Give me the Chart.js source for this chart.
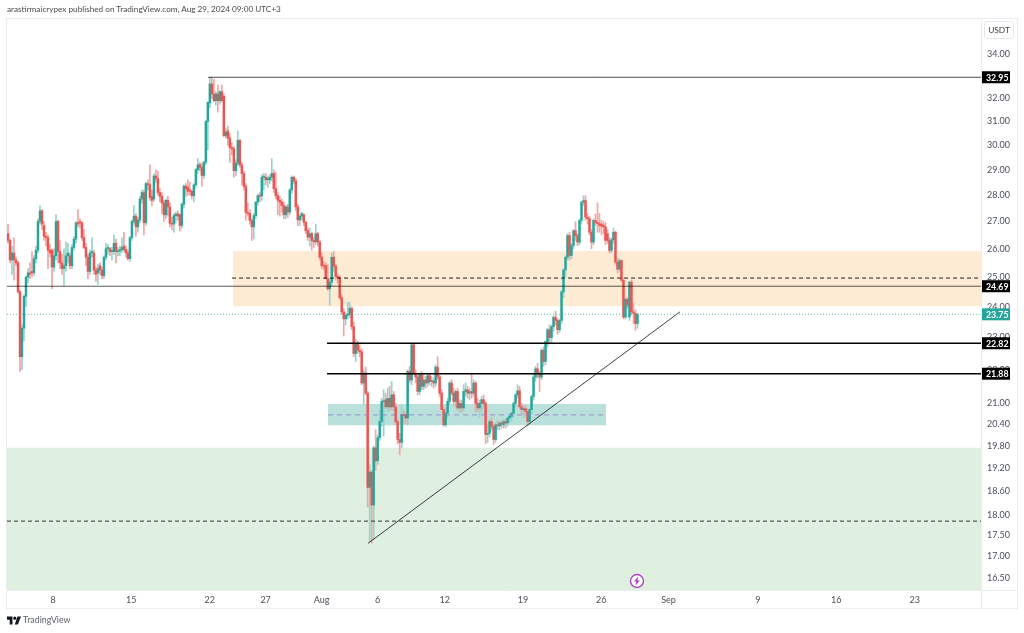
<!DOCTYPE html>
<html>
<head>
<meta charset="utf-8">
<title>arastirmaicrypex chart</title>
<script src="https://cdn.jsdelivr.net/npm/chart.js@4"></script>
<style>
  html, body { margin: 0; padding: 0; background: #fff; }
  body { width: 1024px; height: 633px; position: relative; overflow: hidden; font-family: Lato, sans-serif; }
  #myChart { position: absolute; left: 0; top: 0; }
  .header { position: absolute; left: 7px; top: 4px; font-size: 8.2px; color: #4a4a4a; white-space: nowrap; }
  .footer { position: absolute; left: 23px; top: 614px; font-size: 8.8px; color: #5d606b; white-space: nowrap; }
  .logo { position: absolute; left: 7px; top: 616px; }
  .currency { position: absolute; left: 984px; top: 21px; width: 30px; height: 18px; box-sizing: border-box; border: 1px solid #e6e8ee; border-radius: 3px; font-size: 8.4px; line-height: 16px; text-align: center; color: #3c3f48; }
  .bolt { position: absolute; left: 629px; top: 573px; }
</style>
</head>
<body>
<canvas id="myChart" width="1024" height="633"></canvas>
<div class="header">arastirmaicrypex published on TradingView.com, Aug 29, 2024 09:00 UTC+3</div>
<svg class="logo" width="14" height="9" viewBox="0 0 36 20"><path fill="#131722" d="M14 20H7V8H0V0h14v20zM28 20h-8l7-20h9l-8 20z"/><circle cx="20" cy="4" r="4" fill="#131722"/></svg>
<div class="footer">TradingView</div>
<div class="currency">USDT</div>
<svg class="bolt" width="16" height="16" viewBox="0 0 16 16"><circle cx="8" cy="8" r="6.5" fill="#fff" stroke="#ab47bc" stroke-width="1.4"/><path fill="#ab47bc" d="M9.2 3.6 5 8.6h2.4L6.6 12.4l4.2-5H8.4z"/></svg>
<script>
// candles
const firstDay = 2.98;      // days after Jul 1
const barsPerDay = 5.6;

const opens = [
  26.55,26.3,25.6,25.85,25.6,25.5,24.5,22.4,23.3,24.35,
  25.0,25.15,25.2,25.15,25.65,25.95,27.0,27.4,26.85,26.45,
  26.4,25.95,25.95,25.35,25.75,27.0,25.9,25.5,25.3,25.4,
  25.75,25.75,25.4,26.05,26.35,26.95,27.0,26.95,26.4,26.05,
  25.7,25.2,25.85,25.85,25.24,25.15,25.4,25.25,25.05,25.7,
  26.0,26.0,25.9,25.9,26.2,25.9,25.92,25.97,26.1,25.97,
  25.85,25.65,26.4,27.0,27.2,26.8,27.05,27.85,28.1,26.95,
  28.45,28.4,27.95,27.85,28.75,28.65,28.1,27.95,27.7,27.25,
  27.8,27.55,26.93,26.9,27.22,27.28,27.25,26.85,27.65,28.35,
  28.3,28.2,28.15,27.98,28.4,29.0,29.2,29.1,28.77,29.3,
  31.0,31.8,32.65,32.2,31.9,32.2,31.9,32.3,32.1,30.4,
  30.6,30.3,29.9,29.85,28.96,29.26,30.2,29.2,28.85,28.35,
  27.34,27.3,27.04,26.8,27.22,27.73,27.98,27.98,28.7,28.7,
  28.6,28.6,28.7,28.85,28.25,27.98,27.8,27.73,27.6,27.25,
  27.55,27.35,28.2,28.7,28.55,27.55,27.06,27.2,27.25,26.97,
  26.66,26.42,26.55,26.3,26.25,26.55,26.24,25.7,25.4,25.4,
  24.95,24.6,24.83,25.7,25.38,25.03,24.98,24.3,23.83,23.6,
  23.72,23.75,23.95,23.35,22.5,22.82,22.6,22.55,21.6,21.9,
  21.3,18.7,19.1,18.25,19.75,19.4,20.03,20.48,21.05,21.11,
  20.9,21.15,20.9,21.25,20.9,20.48,19.98,19.9,20.68,20.68,
  20.58,21.95,21.69,22.77,21.9,21.78,21.35,21.85,21.5,21.69,
  21.6,21.82,21.64,21.66,21.6,22.08,21.78,21.3,20.82,20.39,
  20.72,21.06,21.6,21.3,21.06,21.35,20.87,21.0,20.87,21.35,
  21.4,21.3,21.35,21.3,21.6,21.0,20.87,21.0,21.11,21.0,
  20.12,20.15,20.48,20.34,19.98,20.39,20.36,20.44,20.39,20.48,
  20.44,20.58,20.63,20.72,21.0,21.25,21.37,20.9,20.82,20.85,
  20.77,20.48,20.82,21.2,21.78,22.03,21.88,21.78,22.6,22.25,
  22.87,23.25,23.0,23.35,23.65,23.55,23.25,23.55,24.5,25.25,
  25.7,26.48,25.76,26.12,26.66,26.48,26.24,27.04,27.73,27.79,
  27.16,27.1,26.6,26.24,27.04,26.97,26.92,26.9,26.85,26.8,
  26.55,26.3,25.94,26.33,26.6,25.52,25.28,25.58,24.89,23.66,
  24.25,23.66,24.83,23.83,23.78,23.45
];
const highs = [
  26.9,26.35,26.1,26.4,25.7,25.55,24.55,23.4,24.4,25.05,
  25.3,25.5,25.9,25.75,26.1,27.1,27.6,27.45,27.0,26.6,
  26.5,26.15,26.0,26.0,27.25,27.05,26.3,25.8,26.0,26.25,
  26.2,25.85,26.15,26.45,27.0,27.45,27.1,27.0,26.7,26.2,
  25.8,25.95,26.4,25.95,25.35,25.45,25.5,25.35,25.75,26.2,
  26.15,26.05,26.05,26.5,26.35,26.05,26.1,26.4,26.6,26.1,
  25.95,26.45,27.05,27.6,27.3,27.15,27.95,28.2,28.2,28.5,
  28.6,29.2,28.2,28.85,29.0,28.95,28.25,28.1,27.8,27.85,
  27.95,27.7,27.15,27.3,27.35,27.4,27.3,27.7,28.4,28.45,
  28.6,28.5,28.2,28.45,29.05,29.45,29.3,29.25,29.35,31.05,
  31.85,32.95,32.95,32.85,32.3,32.6,32.35,32.6,32.2,30.7,
  30.8,30.5,30.1,29.95,29.4,30.6,30.25,29.3,28.95,28.45,
  27.7,27.45,27.1,27.3,27.75,28.05,28.1,28.8,28.85,28.85,
  28.75,28.8,29.45,29.0,28.9,28.1,27.95,27.85,27.75,27.6,
  27.65,28.25,28.75,28.75,28.65,27.65,27.25,27.35,27.3,27.0,
  26.75,26.75,26.6,26.4,26.9,26.6,26.3,25.85,25.55,25.5,
  25.45,24.95,25.85,25.9,25.45,25.1,25.05,24.4,23.95,23.8,
  24.15,24.15,24.0,23.5,22.95,22.9,22.75,22.65,22.0,22.08,
  21.35,19.3,19.15,19.8,20.25,20.1,20.8,21.15,21.4,21.3,
  21.45,21.5,21.65,21.35,21.0,20.55,20.15,20.95,20.8,20.75,
  22.0,22.1,22.8,22.82,22.0,21.85,21.9,21.95,21.9,21.8,
  21.88,21.9,21.8,21.75,22.15,22.4,21.85,21.4,20.9,20.85,
  21.15,21.65,21.7,21.45,21.4,21.45,21.1,21.1,21.55,21.6,
  21.5,21.45,21.9,21.7,21.65,21.15,21.1,21.2,21.25,21.05,
  20.4,20.55,20.6,20.4,20.45,20.5,20.5,20.5,20.55,20.55,
  20.62,20.7,20.75,21.05,21.3,21.55,21.5,21.0,20.95,20.95,
  20.85,20.85,21.25,21.85,22.1,22.2,21.95,22.65,22.7,22.9,
  23.3,23.4,23.4,23.7,23.85,23.6,23.6,24.55,25.3,25.75,
  26.55,26.6,26.2,26.7,26.99,26.55,27.1,27.75,27.98,27.98,
  27.3,27.2,26.7,27.1,27.28,27.7,27.3,27.05,27.0,26.95,
  26.7,26.4,26.4,26.75,26.65,25.65,25.65,25.6,24.95,24.3,
  24.3,24.85,24.9,24.1,23.9,23.78
];
const lows = [
  26.2,25.5,25.1,24.9,25.4,24.45,21.95,22.0,22.9,24.0,
  24.8,24.95,25.0,25.05,25.5,25.85,26.9,26.7,26.3,26.1,
  25.3,25.7,24.6,25.2,25.6,25.5,25.3,25.1,24.7,25.2,
  25.5,25.3,25.3,25.95,26.2,26.8,26.75,26.3,26.0,25.4,
  24.95,25.1,25.7,25.1,24.85,24.75,25.1,24.95,24.95,25.6,
  25.8,25.75,25.6,25.8,25.5,25.75,25.75,25.85,25.9,25.7,
  25.6,25.55,26.3,26.9,26.45,26.6,26.95,27.7,26.5,26.85,
  28.2,27.8,27.6,27.75,28.5,28.0,27.75,27.3,27.0,27.1,
  27.2,26.8,26.7,26.6,26.95,27.05,26.65,26.75,27.5,27.95,
  28.0,28.0,27.85,27.75,28.3,28.85,28.95,28.35,28.65,29.2,
  29.8,31.6,32.0,31.85,31.7,31.4,31.75,31.85,30.35,30.3,
  30.0,29.3,29.6,28.7,28.75,29.15,29.1,28.4,28.2,27.05,
  27.2,26.9,26.3,26.35,27.1,27.6,27.75,27.8,28.2,28.4,
  28.3,28.45,28.55,28.1,27.85,27.25,27.2,27.35,27.1,27.1,
  27.15,27.25,28.05,28.45,27.4,26.85,26.85,27.05,26.85,26.55,
  26.3,26.1,25.95,26.05,26.15,26.1,25.6,25.3,25.25,24.95,
  24.55,24.05,24.7,25.2,24.9,24.8,24.25,23.75,23.05,23.4,
  23.6,23.65,23.25,22.4,22.25,22.5,22.4,21.55,20.97,21.25,
  18.2,17.35,17.31,17.4,19.15,19.3,19.95,20.35,20.07,20.85,
  20.75,20.8,20.8,20.8,20.4,19.85,19.56,19.75,20.4,20.43,
  20.4,21.6,21.55,21.85,21.6,21.25,21.25,21.4,21.4,21.45,
  21.5,21.55,21.5,21.45,21.5,21.7,21.2,20.82,20.35,20.33,
  20.6,20.95,21.25,20.95,20.9,20.8,20.75,20.75,20.8,21.2,
  21.15,21.1,21.15,21.2,20.75,20.75,20.6,20.75,20.85,19.87,
  19.9,20.05,20.25,19.84,19.9,20.25,20.25,20.3,20.3,20.3,
  20.35,20.45,20.5,20.6,20.9,21.15,20.85,20.7,20.6,20.65,
  20.36,20.4,20.7,21.1,21.65,21.75,21.35,21.7,22.1,22.15,
  22.7,22.8,22.85,23.2,23.4,23.1,23.15,23.45,24.3,25.0,
  25.6,25.6,25.65,26.0,26.3,26.1,26.15,26.9,27.6,27.05,
  26.9,26.5,26.0,26.15,26.85,26.6,26.6,26.5,26.55,26.15,
  26.2,25.85,25.85,26.2,25.45,25.15,25.2,24.85,23.6,23.6,
  23.95,23.55,23.75,23.45,23.23,23.3
];
const closes = [
  26.3,25.6,25.85,25.6,25.5,24.5,22.4,23.3,24.35,25.0,
  25.15,25.1,25.15,25.65,25.95,27.0,27.4,26.9,26.45,26.4,
  25.95,25.85,25.35,25.75,27.0,25.9,25.5,25.3,25.4,25.75,
  25.85,25.4,26.05,26.35,26.95,26.9,26.95,26.4,26.05,25.7,
  25.2,25.85,25.9,25.24,25.1,25.3,25.25,25.05,25.7,26.0,
  26.05,25.9,25.91,26.2,25.9,25.92,25.97,26.05,25.97,25.85,
  25.65,26.4,27.0,27.2,26.8,27.05,27.85,28.1,26.95,28.45,
  28.4,27.9,27.8,28.75,28.65,28.1,27.95,27.7,27.25,27.8,
  27.55,26.93,26.9,27.22,27.28,27.2,26.85,27.65,28.35,28.25,
  28.15,28.15,27.98,28.4,29.0,29.2,29.1,28.77,29.3,31.0,
  31.83,32.65,32.2,31.9,32.2,31.9,32.3,31.9,30.4,30.55,
  30.3,29.9,29.85,28.96,29.26,30.2,29.2,28.85,28.35,27.34,
  27.3,27.04,26.8,27.22,27.73,27.98,27.95,28.7,28.72,28.6,
  28.65,28.7,28.85,28.25,27.98,27.8,27.73,27.6,27.25,27.55,
  27.35,28.2,28.7,28.55,27.55,27.06,27.2,27.3,26.97,26.66,
  26.42,26.55,26.3,26.25,26.55,26.24,25.7,25.4,25.38,24.95,
  24.6,24.83,25.7,25.38,25.03,24.98,24.3,23.83,23.6,23.72,
  23.75,23.95,23.35,22.5,22.82,22.6,22.55,21.6,21.9,21.3,
  18.7,19.1,18.25,19.75,19.4,20.03,20.48,21.06,21.08,20.9,
  21.15,20.9,21.25,20.9,20.48,19.98,19.9,20.68,20.65,20.58,
  21.95,21.69,22.77,21.9,21.78,21.35,21.85,21.5,21.69,21.6,
  21.82,21.64,21.66,21.6,22.08,21.78,21.3,20.82,20.39,20.72,
  21.06,21.6,21.3,21.06,21.35,20.87,21.0,20.87,21.35,21.4,
  21.3,21.35,21.3,21.6,21.0,20.87,21.0,21.11,21.0,20.12,
  20.15,20.48,20.34,19.98,20.39,20.36,20.44,20.4,20.48,20.44,
  20.58,20.63,20.72,21.0,21.25,21.37,20.9,20.82,20.85,20.77,
  20.48,20.82,21.2,21.78,22.03,21.88,21.78,22.6,22.25,22.87,
  23.25,23.0,23.35,23.65,23.55,23.25,23.55,24.5,25.25,25.7,
  26.48,25.76,26.12,26.66,26.48,26.24,27.04,27.73,27.79,27.16,
  27.1,26.6,26.24,27.04,26.97,26.92,26.85,26.82,26.8,26.3,
  26.3,25.94,26.33,26.6,25.52,25.28,25.58,24.89,23.66,24.25,
  24.05,24.83,23.83,23.78,23.45,23.75
];

// axes
const xMin = 2.89, xMax = 89.93;
const yMin = 16.23, yMax = 35.76;
const xTickDays = [7, 14, 21, 26, 31, 36, 42, 49, 56, 62, 70, 77, 84];
const xTickLabels = ["8", "15", "22", "27", "Aug", "6", "12", "19", "26", "Sep", "9", "16", "23"];
const yTicks = [34, 32, 31, 30, 29, 28, 27, 26, 25, 24, 23, 22, 21, 20.4, 19.8, 19.2, 18.6, 18, 17.5, 17, 16.5];

// drawings on the chart
const levelPrices = [32.95, 24.69, 22.82, 21.88];
const levelStarts = [20.85, xMin, 31.49, 31.49];
const lastPrice = 23.75;
const dashPrices = [24.97, 17.85];
const dashStarts = [23.0, xMin];
const orangeTop = 25.92, orangeBottom = 24.02, orangeStart = 23.09;
const tealTop = 20.98, tealBottom = 20.38, tealStart = 31.58, tealEnd = 56.42, tealMid = 20.67;
const greenTop = 19.75;
const trendDays = [35.15, 63.03];
const trendPrices = [17.31, 23.83];

const UP = "#26a69a", DOWN = "#ef5350";
const UP_WICK = "#93d4cd", DOWN_WICK = "#f6a3a1";

const dayOf = (i) => firstDay + i / barsPerDay;
const isUp = (i) => closes[i] >= opens[i];

const wickData = opens.map((o, i) => ({ x: dayOf(i), y: [lows[i], highs[i]] }));
const bodyData = opens.map((o, i) => ({ x: dayOf(i), y: [o, closes[i]] }));

function flatLine(price, from, color, width, dash, order) {
  return {
    type: "line",
    data: [{ x: from, y: price }, { x: xMax, y: price }],
    borderColor: color,
    borderWidth: width,
    borderDash: dash || [],
    pointRadius: 0,
    order: order || 1
  };
}

function zone(from, to, top, bottom, color) {
  return {
    type: "line",
    data: [{ x: from, y: top }, { x: to, y: top }],
    borderWidth: 0,
    pointRadius: 0,
    backgroundColor: color,
    fill: { value: bottom },
    order: 9
  };
}

const datasets = [
  zone(xMin, xMax, greenTop, yMin, "#dff0e0"),
  zone(orangeStart, xMax, orangeTop, orangeBottom, "#fdebd3"),
  zone(tealStart, tealEnd, tealTop, tealBottom, "#b9e0da"),
  {
    data: wickData,
    backgroundColor: opens.map((o, i) => (isUp(i) ? UP_WICK : DOWN_WICK)),
    barThickness: 1,
    grouped: false,
    order: 4
  },
  {
    data: bodyData,
    backgroundColor: opens.map((o, i) => (isUp(i) ? UP : DOWN)),
    barThickness: 1.8,
    minBarLength: 1,
    grouped: false,
    order: 3
  },
  flatLine(lastPrice, xMin, "rgba(38,166,154,0.7)", 1, [1, 2]),
  flatLine(levelPrices[0], levelStarts[0], "rgba(0,0,0,0.7)", 1),
  flatLine(levelPrices[1], levelStarts[1], "rgba(0,0,0,0.65)", 1),
  flatLine(levelPrices[2], levelStarts[2], "#000", 1.6),
  flatLine(levelPrices[3], levelStarts[3], "#000", 1.6),
  flatLine(dashPrices[0], dashStarts[0], "#222", 1, [4, 3]),
  flatLine(dashPrices[1], dashStarts[1], "#333", 1, [4, 3]),
  {
    type: "line",
    data: [{ x: tealStart, y: tealMid }, { x: tealEnd, y: tealMid }],
    borderColor: "rgba(149,117,205,0.75)",
    borderWidth: 1,
    borderDash: [5, 4],
    pointRadius: 0,
    order: 1
  },
  {
    type: "line",
    data: trendDays.map((d, i) => ({ x: d, y: trendPrices[i] })),
    borderColor: "rgba(0,0,0,0.75)",
    borderWidth: 1,
    pointRadius: 0,
    order: 1
  }
];

// price badges on the right and the light frame round the panes
const chartFrame = {
  id: "chartFrame",
  afterDraw(chart) {
    const { ctx, chartArea: a, scales: { y } } = chart;
    ctx.save();
    ctx.strokeStyle = "#e9ecf2";
    ctx.lineWidth = 1;
    ctx.strokeRect(6.5, 18.5, 1011, 590);
    ctx.beginPath();
    ctx.moveTo(a.right + 0.5, 18);
    ctx.lineTo(a.right + 0.5, 608);
    ctx.moveTo(6, a.bottom + 0.5);
    ctx.lineTo(1017, a.bottom + 0.5);
    ctx.stroke();

    ctx.font = "bold 8.8px Lato";
    ctx.textBaseline = "middle";
    ctx.textAlign = "left";
    const badge = (price, color) => {
      const py = y.getPixelForValue(price);
      ctx.fillStyle = color;
      ctx.fillRect(a.right + 1, py - 6, 28, 12);
      ctx.fillStyle = "#fff";
      ctx.fillText(price.toFixed(2), a.right + 5, py + 0.5);
    };
    levelPrices.forEach((p) => badge(p, "#000"));
    badge(lastPrice, UP);
    ctx.restore();
  }
};

new Chart(document.getElementById("myChart"), {
  type: "bar",
  data: { datasets: datasets },
  plugins: [chartFrame],
  options: {
    responsive: false,
    animation: false,
    layout: { padding: { left: 7, right: 7, top: 18, bottom: 25 } },
    plugins: { legend: { display: false }, tooltip: { enabled: false } },
    scales: {
      x: {
        type: "linear",
        min: xMin,
        max: xMax,
        offset: false,
        grid: { display: false, drawTicks: false },
        border: { display: false },
        afterBuildTicks(scale) { scale.ticks = xTickDays.map((d) => ({ value: d })); },
        afterFit(scale) { scale.height = 18; },
        ticks: {
          autoSkip: false,
          maxRotation: 0,
          padding: 5,
          color: "#4a4f5c",
          font: { family: "Lato", size: 9 },
          callback: (v) => xTickLabels[xTickDays.indexOf(v)]
        }
      },
      y: {
        type: "logarithmic",
        position: "right",
        min: yMin,
        max: yMax,
        grid: { display: false, drawTicks: false },
        border: { display: false },
        afterBuildTicks(scale) { scale.ticks = yTicks.map((v) => ({ value: v })); },
        afterFit(scale) { scale.width = 36; },
        ticks: {
          autoSkip: false,
          padding: 6,
          color: "#4a4f5c",
          font: { family: "Lato", size: 9 },
          callback: (v) => v.toFixed(2)
        }
      }
    }
  }
});
</script>
</body>
</html>
